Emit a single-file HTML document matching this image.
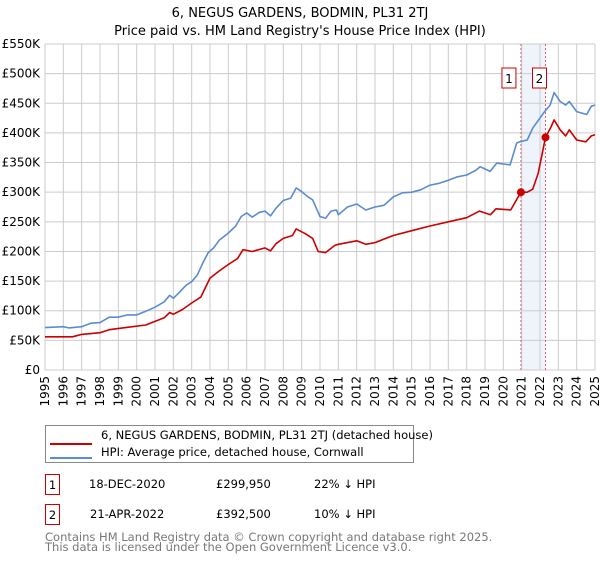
<!DOCTYPE html>
<html><head><meta charset="utf-8"><style>
body{margin:0;background:#fff;font-family:"DejaVu Sans","Liberation Sans",sans-serif;}
svg text{font-family:"DejaVu Sans","Liberation Sans",sans-serif;}
</style></head><body>
<svg id="chart" width="600" height="560" xmlns="http://www.w3.org/2000/svg">
<text x="300" y="17" text-anchor="middle" font-size="13" fill="#000">6, NEGUS GARDENS, BODMIN, PL31 2TJ</text>
<text x="300" y="35" text-anchor="middle" font-size="13" fill="#000">Price paid vs. HM Land Registry's House Price Index (HPI)</text>
<g id="grid"></g>
<g id="series"></g>
<g id="axes"></g>
<g>
<rect x="45.5" y="425.5" width="368" height="37" fill="#fff" stroke="#888"/>
<line x1="50" y1="444" x2="92" y2="444" stroke="#cc0000" stroke-width="2"/>
<text x="101" y="439" font-size="11.5">6, NEGUS GARDENS, BODMIN, PL31 2TJ (detached house)</text>
<line x1="50" y1="458" x2="92" y2="458" stroke="#5b8ccf" stroke-width="2"/>
<text x="101" y="456" font-size="11.5">HPI: Average price, detached house, Cornwall</text>
</g>
<g font-size="11.5">
<rect x="45.5" y="474.5" width="14" height="20" fill="#fff" stroke="#cc0000"/>
<text x="52.5" y="489" text-anchor="middle">1</text>
<text x="89" y="488">18-DEC-2020</text><text x="216" y="488">£299,950</text><text x="314" y="488">22% ↓ HPI</text>
<rect x="45.5" y="504.5" width="14" height="20" fill="#fff" stroke="#cc0000"/>
<text x="52.5" y="519" text-anchor="middle">2</text>
<text x="90" y="518">21-APR-2022</text><text x="216" y="518">£392,500</text><text x="314" y="518">10% ↓ HPI</text>
</g>
<text x="45" y="541" font-size="11.5" fill="#777">Contains HM Land Registry data © Crown copyright and database right 2025.</text>
<text x="45" y="551" font-size="11.5" fill="#777">This data is licensed under the Open Government Licence v3.0.</text>
</svg>
<script>
const hpiYears=[1995,1996,1996.3,1997,1997.5,1998,1998.5,1999,1999.5,2000,2000.5,2001,2001.5,2001.8,2002,2002.3,2002.7,2003,2003.3,2003.6,2003.9,2004.2,2004.5,2005,2005.4,2005.7,2006,2006.3,2006.7,2007,2007.3,2007.6,2008,2008.4,2008.7,2009,2009.3,2009.6,2009.8,2010,2010.3,2010.6,2010.9,2011,2011.5,2012,2012.5,2013,2013.5,2014,2014.5,2015,2015.5,2016,2016.5,2017,2017.5,2018,2018.5,2018.73,2019.28,2019.64,2020.37,2020.73,2020.9,2021.3,2021.6,2022.2,2022.55,2022.77,2023.1,2023.4,2023.6,2024.0,2024.55,2024.8,2025];
const hpiValues=[71.6,73,71,73,79,80,89,89,93,93,99,106,115,126,121,130,143,149,160,180,198,206,219,231,243,259,265,258,266,268,260,273,286,290,307,301,293,287,273,259,256,268,270,262,275,280,270,275,278,292,299,300,304,312,315,320,326,329,337,343,335,349,346,383,385,388,408,434,447,468,453,447,453,436,431,445,447];
const ppYears=[1995,1996.5,1997,1998,1998.5,1999.5,2000.5,2001,2001.5,2001.8,2002,2002.5,2003,2003.5,2004,2004.5,2005,2005.5,2005.8,2006.3,2007,2007.3,2007.6,2008,2008.5,2008.7,2009.2,2009.6,2009.9,2010.3,2010.8,2011,2012,2012.5,2013,2014,2015,2016,2017,2018,2018.7,2019.3,2019.6,2020.4,2020.96,2021.3,2021.6,2021.9,2022.3,2022.6,2022.77,2023.1,2023.4,2023.6,2024,2024.5,2024.8,2025];
const ppValues=[56,56,60,63,68,72,76,82,88,97,94,102,113,123,155,167,178,188,203,200,206,201,213,222,227,238,230,222,200,198,210,212,218,212,215,227,235,243,250,257,268,262,272,270,299.95,300,305,332,392.5,410,422,405,395,405,388,385,395,397];
const saleYears=[2020.96,2022.3];
const saleValues=[299.95,392.5];
const saleLabels=["1","2"];
const yTicks=[0,50,100,150,200,250,300,350,400,450,500,550];
const yTickLabels=["£0","£50K","£100K","£150K","£200K","£250K","£300K","£350K","£400K","£450K","£500K","£550K"];
const xTicks=[1995,1996,1997,1998,1999,2000,2001,2002,2003,2004,2005,2006,2007,2008,2009,2010,2011,2012,2013,2014,2015,2016,2017,2018,2019,2020,2021,2022,2023,2024,2025];

const NS="http://www.w3.org/2000/svg";
const X0=45,X1=595,Y0=370,Y1=44;
const xs=y=>X0+(y-1995)/30*(X1-X0);
const ys=v=>Y0-v/550*(Y0-Y1);
function mk(tag,attrs,parent){const e=document.createElementNS(NS,tag);for(const k in attrs)e.setAttribute(k,attrs[k]);parent.appendChild(e);return e;}
const grid=document.getElementById('grid'),axes=document.getElementById('axes'),ser=document.getElementById('series');
// shading
let band=mk('rect',{x:xs(saleYears[0]),y:Y1,width:xs(saleYears[1])-xs(saleYears[0]),height:Y0-Y1,fill:'#eef3fc'},grid);


yTicks.forEach((t,i)=>{
  const l=mk('line',{x1:X0,x2:X1,y1:ys(t),y2:ys(t),stroke:'#cccccc','stroke-width':1},grid);
  
  
  const tx=mk('text',{x:X0-5,y:ys(t)+4,'text-anchor':'end','font-size':12},axes);
  tx.textContent=yTickLabels[i];
  
  
});
xTicks.forEach(t=>{
  const l=mk('line',{x1:xs(t),x2:xs(t),y1:Y1,y2:Y0,stroke:'#cccccc','stroke-width':1},grid);
  
  
  const tx=mk('text',{x:0,y:0,'text-anchor':'end','font-size':12,transform:`translate(${xs(t)+4},376) rotate(-90)`},axes);
  tx.textContent=t;
  
  
});
saleYears.forEach((s,i)=>{
  const l=mk('line',{x1:xs(s),x2:xs(s),y1:Y1,y2:Y0,stroke:'#e06060','stroke-dasharray':'2,2','stroke-width':1},grid);
  
  
});
function path(xa,va,col,name){
  const d=xa.map((x,i)=>(i?'L':'M')+xs(x).toFixed(1)+','+ys(va[i]).toFixed(1)).join('');
  const p=mk('path',{d:d,fill:'none',stroke:col,'stroke-width':1.6,'stroke-linejoin':'round'},ser);
  
  
}
path(hpiYears,hpiValues,'#5b8ccf','hpi-line');
path(ppYears,ppValues,'#cc0000','price-paid-line');
saleYears.forEach((s,i)=>{
  const c=mk('circle',{cx:xs(s),cy:ys(saleValues[i]),r:4,fill:'#cc0000'},ser);
  
  
  const bx=xs(s)-(i===0?12:6);
  const r=mk('rect',{x:bx-7,y:68,width:14,height:20,fill:'#fff',stroke:'#cc0000'},ser);
  
  
  const t=mk('text',{x:bx,y:83,'text-anchor':'middle','font-size':12},ser);
  t.textContent=saleLabels[i];
  
  
});
</script>
</body></html>
